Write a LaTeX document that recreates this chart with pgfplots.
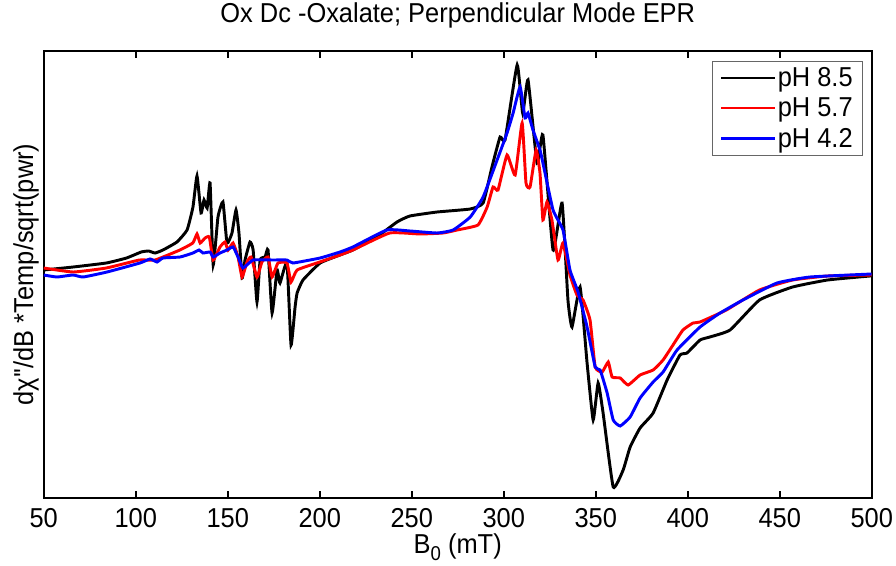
\documentclass[border=0pt]{standalone}
\usepackage{fontspec}
\setmainfont{Liberation Sans}[FakeStretch=0.93]
\newfontfamily\labfont{Liberation Sans}[FakeStretch=0.93]
\usepackage{pgfplots}
\pgfplotsset{compat=1.18}
\begin{document}
\begin{tikzpicture}
\useasboundingbox (-32.8pt,-50.25pt) rectangle (639.2pt,373.5pt);
\begin{axis}[
  at={(0,0)}, anchor=south west,
  scale only axis, width=621pt, height=335.25pt,
  xmin=50, xmax=500, ymin=2, ymax=449,
  xtick={50,100,...,500}, ytick=\empty,
  tick align=inside, major tick length=5.5pt,
  axis line style={line width=1.2pt},
  every tick/.style={line width=1.2pt, black},
  /pgf/number format/assume math mode=true,
  xticklabel style={font=\fontsize{20.5}{24}\selectfont, anchor=center, yshift=-15pt},
  title={Ox Dc -Oxalate; Perpendicular Mode EPR},
  title style={at={(axis description cs:0.5,1)}, anchor=center, yshift=21pt, font=\fontsize{20.5}{24}\selectfont},
  xlabel={B\raisebox{-5pt}{\fontsize{15}{15}\selectfont 0} (mT)},
  xlabel style={at={(axis description cs:0.5,0)}, anchor=base, yshift=-41.5pt, font=\fontsize{20.5}{24}\selectfont},
  ylabel={\labfont dχ''/dB *Temp/sqrt(pwr)},
  ylabel style={at={(axis description cs:-0.0214,0.5)}, anchor=center, font=\fontsize{20.5}{24}\selectfont},
  legend style={at={(1,1)}, anchor=north east, xshift=-6.5pt, yshift=-7.5pt,
    draw=black!60, line width=0.6pt, font=\fontsize{20.5}{24}\selectfont,
    inner xsep=6pt, inner ysep=3pt, row sep=4pt,
    nodes={inner sep=1.5pt},
    /tikz/every even column/.append style={column sep=3pt}},
  legend cell align=left,
  legend image code/.code={\draw[#1, line width=1.6pt] (0pt,0pt) -- (40pt,0pt);},
  every axis plot/.append style={line width=2.2pt, smooth, tension=0.25},
]
\addplot[black] coordinates {
(50,230) (66,233) (84,237) (95,242) (103,248) (107,249) (110.5,247) (114.8,250)
(122.4,258) (127.9,270) (131.1,293) (133.3,324) (135.5,287) (137.1,300) (138.8,292)
(140.4,317) (142.1,235) (144.7,283) (147.4,298) (149.6,257) (152.3,267) (154.5,290)
(156.1,267) (157.8,222) (159.4,240) (162.1,258) (163.8,250) (165.9,198) (167.6,240)
(170.3,243) (171.9,250) (174.1,187) (176.8,230) (178.4,217) (182.2,237) (184.4,155)
(186.6,193) (187.7,207) (190.9,220) (200.2,237) (211,245) (218,250) (231,263)
(242,278) (249,284) (263.8,288) (281.8,291) (288.8,297) (293.6,333) (298,363)
(300.7,360) (307.3,435) (310.3,387) (313.2,420) (318.1,337) (321.3,365) (326.8,250)
(331.7,297) (334.9,200) (337.1,173) (341.5,213) (345.3,137) (348.6,80) (351.3,117)
(354,87) (359.5,13) (364.9,30) (368.7,53) (374.1,72) (381.2,87) (388.8,120)
(395.8,145) (399.6,147) (406.7,160) (412,163) (423,170) (439,200) (457,213)
(476,220) (499,224) (500,224)
};
\addlegendentry{pH 8.5}
\addplot[red] coordinates {
(50,232) (66,228) (84,232) (102,240) (110.5,240) (124,250) (131,257) (133.3,266)
(135,257) (137.7,262) (140,263) (142.1,240) (145.8,253) (148.5,258) (150.2,250)
(152.9,257) (155.6,243) (157.8,223) (160.5,238) (162.7,243) (165.9,223) (168.6,238)
(171.9,243) (174.1,223) (177.3,237) (182.2,237) (184.4,218) (187.7,230) (200,238)
(211,245) (218,250) (238,267) (254.6,266) (267,267) (274.7,270) (286,275)
(291,293) (294.2,313) (296.9,310) (301.8,345) (306.2,325) (310,377) (312.1,317)
(314.3,313) (317.6,350) (319.7,327) (321.3,280) (323.5,298) (326.2,280) (329.5,240)
(332.2,257) (336,225) (339.8,205) (343.1,200) (346.9,180) (349.7,133) (353.5,128)
(356.8,138) (358.9,123) (363.3,122) (367.6,115) (374.1,125) (381.2,130) (386.6,140)
(392,155) (397.4,170) (402.9,177) (406.7,178) (421,190) (439,210) (457,220)
(476,224) (500,225)
};
\addlegendentry{pH 5.7}
\addplot[blue] coordinates {
(50,225) (57.2,223) (65.9,225) (71.4,223) (84.4,228) (102.3,237) (107.8,241)
(111.6,238) (114.8,242) (124.1,243) (131.1,247) (134.4,250) (136.6,247) (140.4,248)
(142.1,243) (145.8,247) (149.6,250) (152.9,253) (155.6,243) (158.3,232) (163.8,240)
(174.6,240) (182.2,240) (185.5,237) (200.2,242) (211,248) (218,253) (236.5,270)
(249.1,269) (263.8,267) (272.5,270) (281.8,283) (288.8,303) (296.4,340) (301.8,367)
(305.1,387) (308.9,413) (311.6,382) (313.2,387) (315.9,370) (319.7,350) (321.3,337)
(326.8,290) (332.2,270) (336,230) (340.4,208) (345.3,173) (349.7,133) (352.4,130)
(356.2,107) (359.5,80) (363.3,74) (368.7,83) (374.1,102) (381.2,118) (386.6,128)
(394.2,150) (406.7,173) (417.6,187) (430,200) (448.5,217) (466.4,223) (500,226)
};
\addlegendentry{pH 4.2}
\end{axis}
\end{tikzpicture}
\end{document}
